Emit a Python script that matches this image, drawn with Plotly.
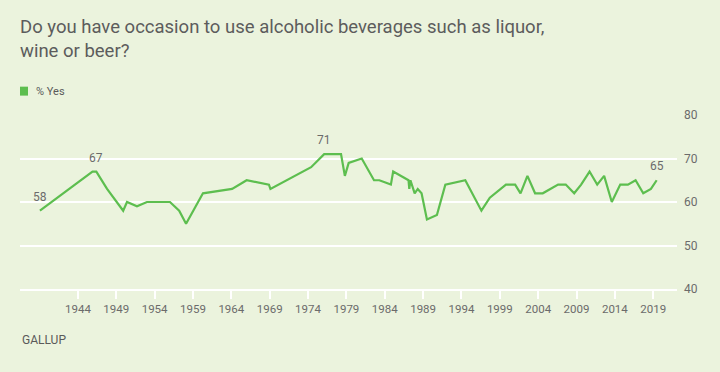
import plotly.graph_objects as go

# Survey dates (decimal years) and % saying Yes
years = [1939.05, 1945.9, 1946.4, 1947.8, 1949.9, 1950.4, 1951.7, 1953.0, 1956.0, 1957.2,
         1958.1, 1960.3, 1964.1, 1966.0, 1968.9, 1969.1, 1974.4, 1976.1, 1978.3, 1978.8,
         1979.3, 1981.0, 1982.6, 1983.3, 1984.8, 1985.1, 1987.1, 1987.2, 1987.35, 1987.9,
         1988.3, 1988.8, 1989.5, 1990.8, 1991.9, 1994.5, 1996.6, 1997.7, 1999.8, 2001.0,
         2001.7, 2002.6, 2003.6, 2004.6, 2006.6, 2007.6, 2008.7, 2009.6, 2010.7, 2011.7,
         2012.6, 2013.6, 2014.7, 2015.7, 2016.7, 2017.7, 2018.7, 2019.45]
yes_pct = [58, 67, 67, 63, 58, 60, 59, 60, 60, 58,
           55, 62, 63, 65, 64, 63, 68, 71, 71, 66,
           69, 70, 65, 65, 64, 67, 65, 63, 65, 62,
           63, 62, 56, 57, 64, 65, 58, 61, 64, 64,
           62, 66, 62, 62, 64, 64, 62, 64, 67, 64,
           66, 60, 64, 64, 65, 62, 63, 65]
label_idx = [0, 2, 17, 57]
x_ticks = list(range(1944, 2020, 5))
y_ticks = [40, 50, 60, 70, 80]

GREEN = "#5dbe4f"
BG = "#ebf3dd"
FONT = "Roboto, 'Liberation Sans', sans-serif"

ML, MR, MT, MB = 20, 43, 114.5, 82.5
PW, PH = 720 - ML - MR, 372 - MT - MB


def px(x):
    return (x - ML) / PW


def py(y):
    return (372 - MB - y) / PH


fig = go.Figure()
fig.add_trace(go.Scatter(x=years, y=yes_pct, mode="lines",
                         line=dict(color=GREEN, width=2.2), showlegend=False,
                         hoverinfo="skip"))

for i in label_idx:
    fig.add_annotation(x=years[i], y=yes_pct[i], text=str(yes_pct[i]), showarrow=False,
                       yanchor="bottom", yshift=5,
                       font=dict(family=FONT, size=12, color="#6b6b6b"))

fig.update_layout(
    width=720, height=372,
    paper_bgcolor=BG, plot_bgcolor=BG,
    margin=dict(l=ML, r=MR, t=MT, b=MB),
    font=dict(family=FONT, color="#6b6b6b"),
    title=dict(text="Do you have occasion to use alcoholic beverages such as liquor,<br>wine or beer?",
               x=0, xref="paper", xanchor="left", y=1, yref="container", yanchor="top",
               pad=dict(t=33, l=0),
               font=dict(family=FONT, size=18.5, color="#5c5c5c")),
    xaxis=dict(range=[1936.45, 2022.1], tickvals=x_ticks, ticktext=[str(v) for v in x_ticks],
               showgrid=False, zeroline=False, showline=True, linecolor="white", linewidth=2,
               ticks="outside", tickcolor="white", tickwidth=2, ticklen=8,
               tickfont=dict(size=11.5, color="#6b6b6b"), fixedrange=True),
    yaxis=dict(range=[40, 80], tickvals=y_ticks, side="right", showgrid=True,
               gridcolor="white", gridwidth=2, zeroline=False, showline=False,
               ticks="", ticklabelstandoff=6,
               tickfont=dict(size=12, color="#6b6b6b"), fixedrange=True),
)

# legend swatch and label
fig.add_shape(type="rect", xref="paper", yref="paper", x0=px(20), x1=px(28),
              y0=py(95), y1=py(86), line_width=0, fillcolor=GREEN, layer="above")
fig.add_annotation(text="% Yes", xref="paper", yref="paper",
                   x=px(34), y=py(91), xanchor="left", yanchor="middle",
                   showarrow=False, font=dict(family=FONT, size=11, color="#5a5a5a"))
fig.add_annotation(text="GALLUP", xref="paper", yref="paper",
                   x=px(20), y=py(341), xanchor="left", yanchor="middle",
                   showarrow=False, font=dict(family=FONT, size=12, color="#5a5a5a"))

fig.write_html("out.html", config={"displayModeBar": False},
               post_script="document.body.style.margin='0';"
                           "document.body.style.background='" + BG + "';")
